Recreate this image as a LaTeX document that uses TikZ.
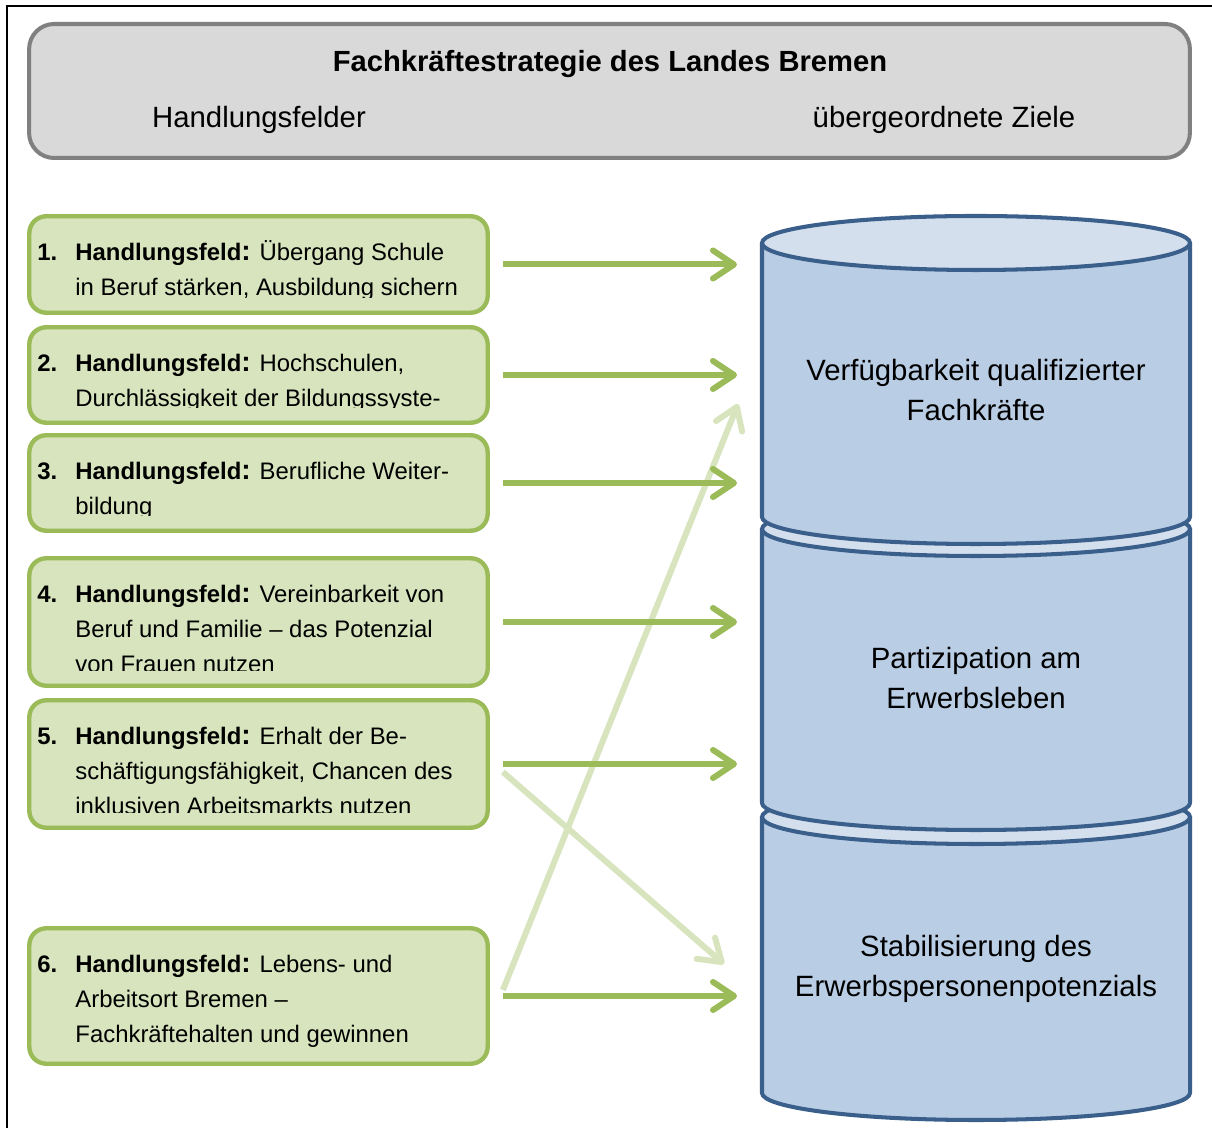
\documentclass[tikz,border=0pt]{standalone}
\usepackage{fontspec}
\setmainfont{Liberation Sans}
\usetikzlibrary{arrows.meta}

\definecolor{feldgruen}{HTML}{D7E4BD}
\definecolor{feldrand}{HTML}{9BBB59}
\definecolor{kopfgrau}{HTML}{D9D9D9}
\definecolor{kopfrand}{HTML}{808080}
\definecolor{zylblau}{HTML}{B9CDE5}
\definecolor{zyldeckel}{HTML}{D4DFEE}
\definecolor{zylrand}{HTML}{3A5F8B}

\newcommand{\hf}{\textbf{Handlungsfeld{\fontsize{16}{20}\selectfont:}}}

% one barrel of the stack: top centre, bottom centre
\newcommand{\tonne}[2]{%
  \path[fill=zylblau] (762,#1) -- (762,#2) arc[start angle=180,end angle=360,x radius=214,y radius=27] -- (1190,#1) -- cycle;
  \path[fill=zyldeckel] (976,#1) ellipse[x radius=214,y radius=27];
  \draw[zylrand,line width=2.3pt,line join=round] (762,#1) -- (762,#2) arc[start angle=180,end angle=360,x radius=214,y radius=27] -- (1190,#1);
  \draw[zylrand,line width=2.3pt] (976,#1) ellipse[x radius=214,y radius=27];
}

\tikzset{
  x=0.02cm, y=0.02cm,
  kopf/.style={draw=kopfrand, fill=kopfgrau, line width=2.3pt, rounded corners=0.5cm,
    minimum width=23.22cm, minimum height=2.68cm},
  feld/.style={draw=feldrand, fill=feldgruen, line width=2.5pt, rounded corners=0.34cm,
    minimum width=9.17cm},
  feldtext/.style={anchor=base west, inner sep=0pt, font=\fontsize{13.6}{20}\selectfont},
  zieltext/.style={align=center, font=\fontsize{16.7}{22.8}\selectfont},
  pfeil/.style={draw=feldrand, line width=3.4pt, -{Straight Barb[length=12pt,width=16pt,round]},
    shorten <=0.26cm, shorten >=0.46cm},
  pfeil hell/.style={draw=feldgruen, line width=3.4pt, -{Straight Barb[length=12pt,width=16pt,round]}}
}

\begin{document}
\begin{tikzpicture}
  \useasboundingbox (0,0) rectangle (1212,1128);
  \draw[line width=1.1pt] (7,0) -- (7,1122) -- (1212,1122);

  % header
  \node[kopf] (kopf) at (609.5,1037) {};
  \node[font=\bfseries\fontsize{16.6}{20}\selectfont] (titel) at (610,1064) {Fachkräftestrategie des Landes Bremen};
  \node[font=\fontsize{16.7}{20}\selectfont] (felder) at (259,1008) {Handlungsfelder};
  \node[font=\fontsize{16.7}{20}\selectfont] (ziele) at (944,1008) {übergeordnete Ziele};

  % fields of action
  \foreach \i/\y/\h/\k/\txt in {
      1/863.5/1.93/0.34/{\hf{} Übergang Schule\\in Beruf stärken, Ausbildung sichern},
      2/753/1.91/0.34/{\hf{} Hochschulen,\\Durchlässigkeit der Bildungssyste-},
      3/645/1.91/0.34/{\hf{} Berufliche Weiter-\\bildung},
      4/506/2.55/0.34/{\hf{} Vereinbarkeit von\\Beruf und Familie -- das Potenzial\\von Frauen nutzen},
      5/364/2.55/0.34/{\hf{} Erhalt der Be-\\schäftigungsfähigkeit, Chancen des\\inklusiven Arbeitsmarkts nutzen},
      6/132/2.71/0/{\hf{} Lebens- und\\Arbeitsort Bremen --\\Fachkräftehalten und gewinnen}}{
    \node[feld, minimum height=\h cm] (b\i) at (258.5,\y) {};
    \begin{scope}
      \clip (b\i.north west) rectangle ([yshift=\k cm]b\i.south east);
      \node[feldtext] (t\i) at ([xshift=0.2cm,yshift=-0.93cm]b\i.north west)
        {\makebox[0.76cm][l]{\textbf{\i.}}\parbox[t]{8.2cm}{\txt}};
    \end{scope}
  }

  % goals
  \tonne{311}{35}
  \tonne{599}{325}
  \tonne{885}{611}
  \node[zieltext] (z1) at (976,738) {Verfügbarkeit qualifizierter\\Fachkräfte};
  \node[zieltext] (z2) at (976,450) {Partizipation am\\Erwerbsleben};
  \node[zieltext] (z3) at (976,159) {Stabilisierung des\\Erwerbspersonenpotenzials};
  \coordinate (rand) at (760,0);
  \coordinate (hoch) at (738,724);
  \coordinate (runter) at (724,164);

  \draw[pfeil hell] ([xshift=0.26cm,yshift=0.12cm]b6.east) -- (hoch);
  \draw[pfeil hell] ([xshift=0.26cm,yshift=-0.16cm]b5.east) -- (runter);
  \foreach \i in {1,...,6}
    \draw[pfeil] (b\i.east) -- (b\i.east -| rand);
\end{tikzpicture}
\end{document}
